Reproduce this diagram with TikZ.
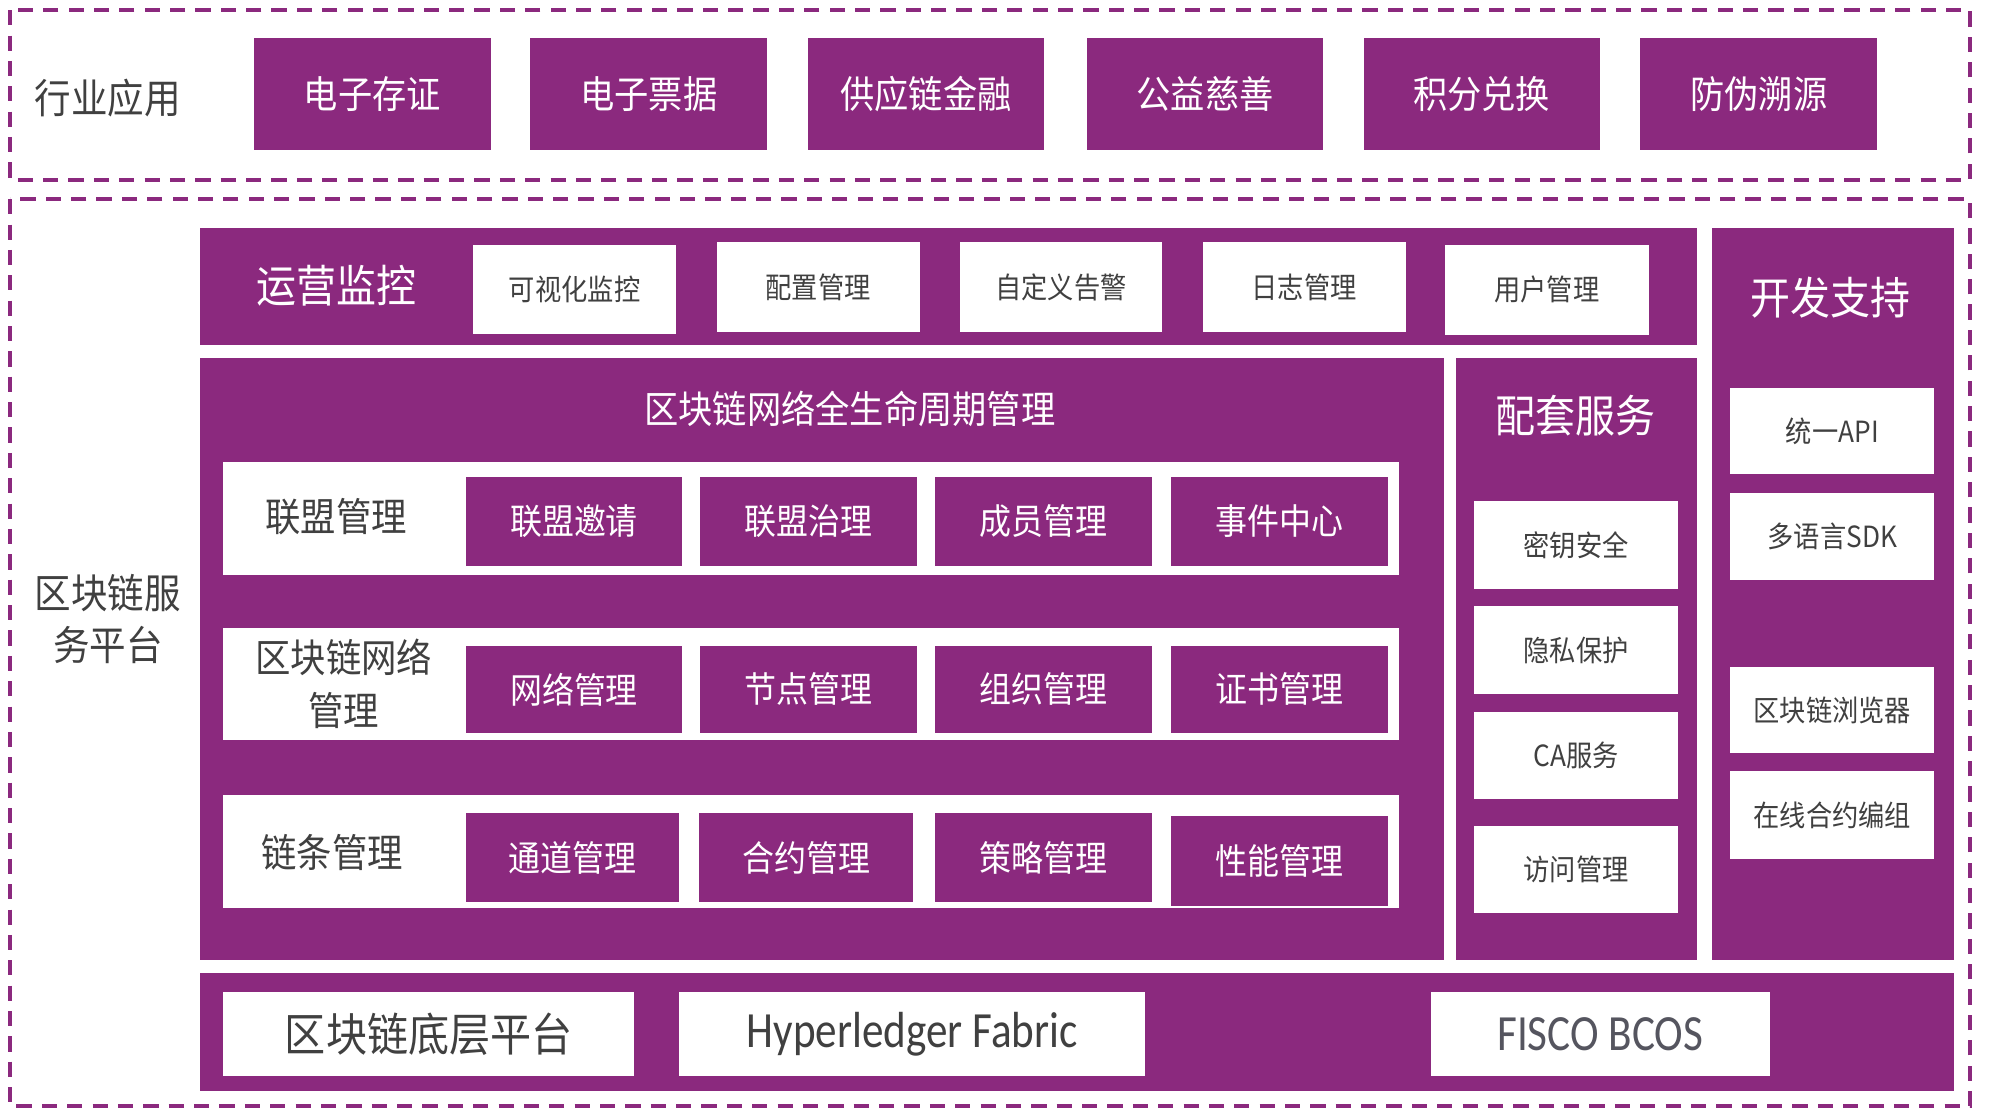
\documentclass[tikz,border=0pt]{standalone}
\usepackage{fontspec}
\newfontfamily\cjk[FakeStretch=0.9]{Noto Sans CJK SC}
\newfontfamily\lat[FakeStretch=0.85]{Carlito}
\definecolor{pur}{RGB}{139,41,126}
\definecolor{tgray}{RGB}{64,64,64}
\newcommand\cf[1]{\cjk\fontsize{#1}{#1}\selectfont}
\newcommand\bx[7]{\node[#6, minimum width={(#4-#2)*1pt}, minimum height={(#5-#3)*1pt}] (#1) at ({(#2+#4)/2},{(#3+#5)/2}) {#7};}
\tikzset{
  base/.style={inner sep=0pt, outer sep=0pt, rectangle},
  pbox/.style={base, fill=pur, text=white},
  wbox/.style={base, fill=white, text=tgray},
  lbl/.style={inner sep=0pt, text=tgray},
  wlbl/.style={inner sep=0pt, text=white},
  dbox/.style={draw=pur, line width=3.6pt, dash pattern=on 12pt off 8pt},
}
\begin{document}
\begin{tikzpicture}[x=1pt,y=-1pt]
\useasboundingbox (0,0) rectangle (1568,878);
% dashed frames
\draw[dbox] (8,8) rectangle (1553,142);
\draw[dbox] (8,157) rectangle (1553,872);
% industry applications
\node[lbl, font=\cf{32}] (hy) at (85,77) {行业应用};
\bx{a1}{200}{30}{387}{118}{pbox, font=\cf{30}}{电子存证}
\bx{a2}{418}{30}{605}{118}{pbox, font=\cf{30}}{电子票据}
\bx{a3}{637}{30}{823}{118}{pbox, font=\cf{30}}{供应链金融}
\bx{a4}{857}{30}{1043}{118}{pbox, font=\cf{30}}{公益慈善}
\bx{a5}{1075}{30}{1261}{118}{pbox, font=\cf{30}}{积分兑换}
\bx{a6}{1293}{30}{1480}{118}{pbox, font=\cf{30}}{防伪溯源}
% platform label
\node[lbl, align=center, font={\cjk\fontsize{32}{41}\selectfont}] (pt) at (85,488) {区块链服\\务平台};
% operations monitoring
\bx{ops}{158}{180}{1338}{272}{pbox}{}
\node[wlbl, font=\cf{35}] (opsl) at (265,225) {运营监控};
\bx{o1}{373}{193}{533}{263}{wbox, font=\cf{23}}{可视化监控}
\bx{o2}{565}{191}{725}{262}{wbox, font=\cf{23}}{配置管理}
\bx{o3}{757}{191}{916}{262}{wbox, font=\cf{23}}{自定义告警}
\bx{o4}{948}{191}{1108}{262}{wbox, font=\cf{23}}{日志管理}
\bx{o5}{1139}{193}{1300}{264}{wbox, font=\cf{23}}{用户管理}
% dev support
\bx{dev}{1350}{180}{1540}{757}{pbox}{}
\node[wlbl, font=\cf{35}] (devl) at (1443,235) {开发支持};
\bx{d1}{1364}{306}{1525}{374}{wbox, font=\cf{23}}{统一API}
\bx{d2}{1364}{389}{1525}{457}{wbox, font=\cf{23}}{多语言SDK}
\bx{d3}{1364}{526}{1525}{594}{wbox, font=\cf{23}}{区块链浏览器}
\bx{d4}{1364}{608}{1525}{677}{wbox, font=\cf{23}}{在线合约编组}
% supporting services
\bx{svc}{1148}{282}{1338}{757}{pbox}{}
\node[wlbl, font=\cf{35}] (svcl) at (1242,328) {配套服务};
\bx{s1}{1162}{395}{1323}{464}{wbox, font=\cf{23}}{密钥安全}
\bx{s2}{1162}{478}{1323}{547}{wbox, font=\cf{23}}{隐私保护}
\bx{s3}{1162}{561}{1323}{630}{wbox, font=\cf{23}}{CA服务}
\bx{s4}{1162}{651}{1323}{720}{wbox, font=\cf{23}}{访问管理}
% lifecycle management
\bx{lc}{158}{282}{1138}{757}{pbox}{}
\node[wlbl, font=\cf{30}] (lcl) at (670,322) {区块链网络全生命周期管理};
% row 1
\bx{r1}{176}{364}{1103}{453}{wbox}{}
\node[lbl, font=\cf{31}] (r1l) at (265,407) {联盟管理};
\bx{r1a}{367}{376}{538}{446}{pbox, font=\cf{28}}{联盟邀请}
\bx{r1b}{552}{376}{723}{446}{pbox, font=\cf{28}}{联盟治理}
\bx{r1c}{737}{376}{908}{446}{pbox, font=\cf{28}}{成员管理}
\bx{r1d}{923}{376}{1094}{446}{pbox, font=\cf{28}}{事件中心}
% row 2
\bx{r2}{176}{495}{1103}{583}{wbox}{}
\node[lbl, align=center, font={\cjk\fontsize{31}{42}\selectfont}] (r2l) at (271,539) {区块链网络\\管理};
\bx{r2a}{367}{509}{538}{578}{pbox, font=\cf{28}}{网络管理}
\bx{r2b}{552}{509}{723}{578}{pbox, font=\cf{28}}{节点管理}
\bx{r2c}{737}{509}{908}{578}{pbox, font=\cf{28}}{组织管理}
\bx{r2d}{923}{509}{1094}{578}{pbox, font=\cf{28}}{证书管理}
% row 3
\bx{r3}{176}{627}{1103}{716}{wbox}{}
\node[lbl, font=\cf{31}] (r3l) at (262,672) {链条管理};
\bx{r3a}{367}{641}{535}{711}{pbox, font=\cf{28}}{通道管理}
\bx{r3b}{551}{641}{720}{711}{pbox, font=\cf{28}}{合约管理}
\bx{r3c}{737}{641}{908}{711}{pbox, font=\cf{28}}{策略管理}
\bx{r3d}{923}{643}{1094}{714}{pbox, font=\cf{28}}{性能管理}
% bottom platform
\bx{btm}{158}{767}{1540}{860}{pbox}{}
\bx{b1}{176}{782}{500}{848}{wbox, font=\cf{36}}{区块链底层平台}
\bx{b2}{535}{782}{903}{848}{wbox, font={\lat\fontsize{40}{40}\selectfont}}{Hyperledger Fabric}
\bx{b3}{1128}{782}{1395}{848}{wbox, text={rgb,255:red,85;green,85;blue,95}, font={\lat\fontsize{40}{40}\selectfont}}{FISCO BCOS}
\end{tikzpicture}
\end{document}
